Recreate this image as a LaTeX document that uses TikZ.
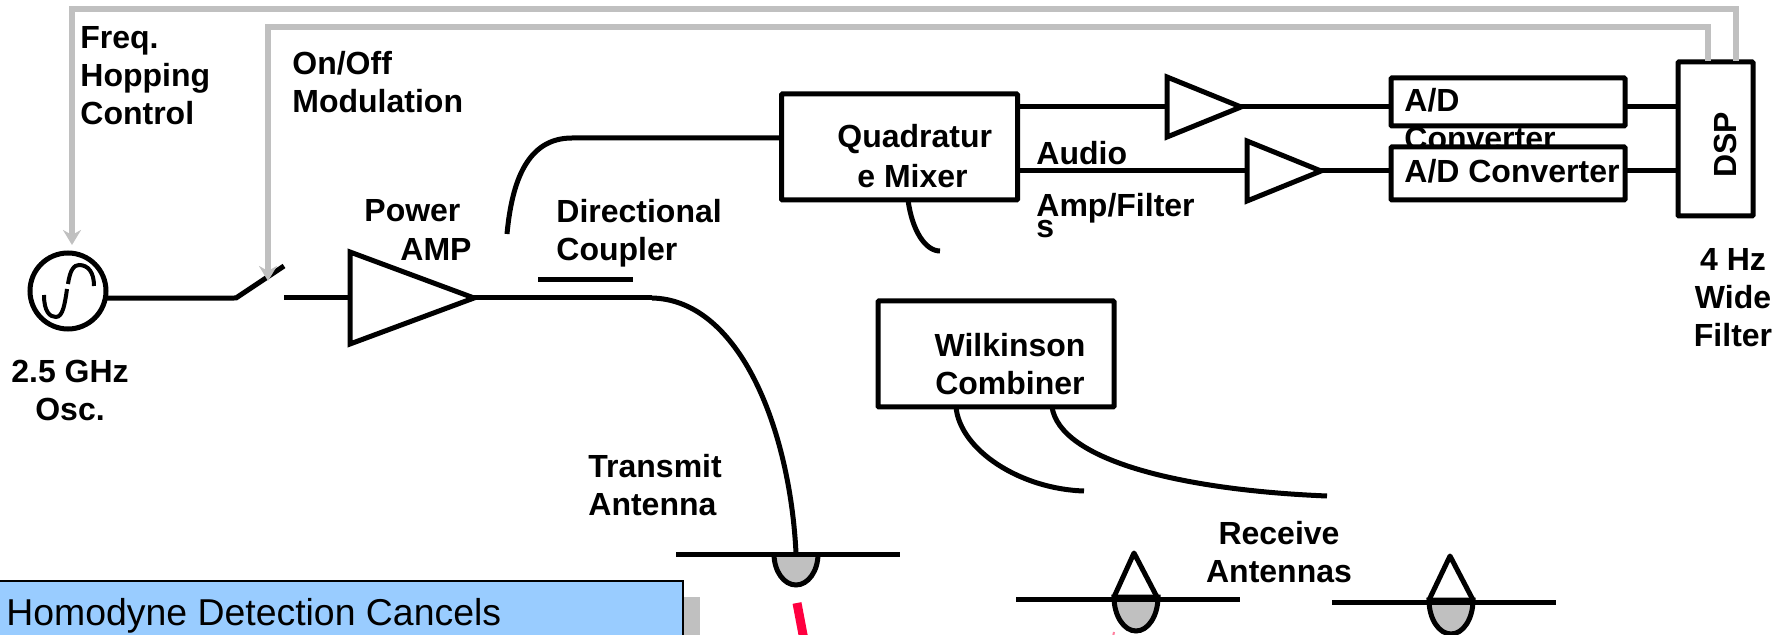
\documentclass[tikz,border=0pt]{standalone}
\usepackage{fontspec}
\setmainfont{Liberation Sans}
\usetikzlibrary{arrows.meta}
\usetikzlibrary{shapes.geometric}

\tikzset{
  wire/.style={line width=2.5pt},
  ctrl/.style={line width=2.75pt,draw=ctrlgray,-{Stealth[length=7.5pt,width=9pt,inset=2.5pt]}},
  blockbox/.style={draw,line width=2.5pt,fill=white,inner sep=0pt,outer sep=0pt,rounded corners=0.5pt},
  ampbox/.style={draw,line width=2.5pt,fill=white,isosceles triangle,isosceles triangle stretches,inner sep=0pt,outer sep=0pt,anchor=lower side},
  lbl/.style={font=\fontsize{16}{19}\selectfont\bfseries,align=left,inner sep=0pt,anchor=base west},
  lblc/.style={font=\fontsize{16}{19}\selectfont\bfseries,align=center,inner sep=0pt,anchor=base},
  dome/.style={line width=2.5pt,fill=domegray}
}
\definecolor{ctrlgray}{HTML}{C0C0C0}
\definecolor{domegray}{HTML}{C0C0C0}
\definecolor{notegray}{HTML}{C0C0C0}
\definecolor{noteblue}{HTML}{99CCFF}
\definecolor{beamred}{HTML}{FF0040}

\begin{document}
\begin{tikzpicture}[x=0.5pt,y=-0.5pt]
\clip (0,0) rectangle (1787,635);

% Blocks
\node[draw,circle,line width=2.5pt,minimum size=38pt,inner sep=0pt,outer sep=0pt] (osc) at (68,291) {};
\node[ampbox,minimum width=46pt,minimum height=62pt] (pa) at (350,298) {};
\node[ampbox,minimum width=30pt,minimum height=37pt] (ampi) at (1167,107) {};
\node[ampbox,minimum width=30pt,minimum height=37pt] (ampq) at (1247,171) {};
\node[blockbox,minimum width=118pt,minimum height=53pt] (mixer) at (899.5,147) {};
\node[blockbox,minimum width=118pt,minimum height=53pt] (wilk) at (996,354) {};

% The lower A/D box hides part of the upper label
\node[blockbox,minimum width=117pt,minimum height=24pt] (adi) at (1508,102) {};
\node[lbl] (adilbl) at (1404,150) {A/D\\Converter};
\node[blockbox,minimum width=117pt,minimum height=26.5pt] (adq) at (1508,173.5) {};
\node[lbl] (adqlbl) at (1404,183) {A/D Converter};
\node[blockbox,minimum width=37.5pt,minimum height=77pt] (dsp) at (1715.5,139) {};

% Switch and free ends
\coordinate (swa) at (236,298);
\coordinate (swb) at (284,266);
\coordinate (swc) at (284,298);
\coordinate (cpl) at (652,298);
\coordinate (cpla) at (538,280);
\coordinate (cplb) at (633,280);
\coordinate (feedstart) at (507,234);
\coordinate (feedbend) at (572,138);
\coordinate (stubend) at (940,251);
\coordinate (tx) at (796,553);
\coordinate (wilka) at (1084,491);
\coordinate (wilkb) at (1327,496);

% Signal path
\draw[wire] (osc.-11) -- (swa) -- (swb);
\draw[wire] (swc) -- (pa.lower side);
\draw[wire] (pa.apex) -- (cpl);
\draw[wire] (cpl) .. controls (740,300) and (790,430) .. (tx);
\draw[wire] (cpla) -- (cplb);
\draw[wire] (feedstart) .. controls (512,180) and (528,138) .. (feedbend) -- (feedbend -| mixer.west);
\draw[wire] (908,200) .. controls (912,230) and (925,251) .. (stubend);
\draw[wire] (mixer.east |- ampi) -- (ampi.lower side);
\draw[wire] (mixer.east |- ampq) -- (ampq.lower side);
\draw[wire] (ampi.apex) -- (adi.west |- ampi);
\draw[wire] (ampq.apex) -- (adq.west |- ampq);
\draw[wire] (adi.east |- ampi) -- (dsp.west |- ampi);
\draw[wire] (adq.east |- ampq) -- (dsp.west |- ampq);
\draw[wire] (956,407) .. controls (960,450) and (1020,489) .. (wilka);
\draw[wire] (1052,407) .. controls (1060,460) and (1180,490) .. (wilkb);

% Sine inside the oscillator
\draw[line width=2pt] (44,295) .. controls (44,312) and (50,317) .. (56,317) .. controls (63,317) and (65,303) .. (67,289);
\draw[line width=2pt] (68,284) .. controls (70,270) and (74,265) .. (79,265) .. controls (88,265) and (94,272) .. (94,286);

% Control lines from the DSP
\coordinate (dsphop) at (1736,61);
\coordinate (dspsw) at (1708,61);
\draw[ctrl] (dsphop) -- (1736,9) -- (72,9) -- (72,245);
\draw[ctrl] (dspsw) -- (1708,27) -- (268,27) -- (268,281);

% Antennas
\draw[dome] (774,554) arc[start angle=180,end angle=0,x radius=22,y radius=31];
\draw[wire] (676,554) -- (900,554);
\draw[wire,line join=round] (1114,597) -- (1134,553) -- (1157,597);
\draw[dome] (1114,597) arc[start angle=180,end angle=0,x radius=22,y radius=34] -- cycle;
\draw[wire] (1016,599) -- (1240,599);
\draw[wire,line join=round] (1429,600) -- (1450,556) -- (1473,600);
\draw[dome] (1429,600) arc[start angle=180,end angle=0,x radius=22,y radius=34] -- cycle;
\draw[wire] (1332,602) -- (1556,602);

% Beams and note
\draw[line width=4.5pt,beamred] (797,603) -- (804,640);
\draw[line width=1pt,beamred!50] (1114,632) -- (1113,637);
\fill[notegray] (683,597) rectangle (700,640);
\node[draw,line width=1.25pt,fill=noteblue,minimum width=342pt,minimum height=50pt,inner sep=0pt,outer sep=0pt] (note) at (341,631) {};
\node[font=\fontsize{18.7}{22}\selectfont,inner sep=0pt,anchor=base west] (notelbl) at (6,625) {Homodyne Detection Cancels};

% Labels
\node[lbl] (hoplbl) at (80,125) {Freq.\\Hopping\\Control};
\node[lbl] (modlbl) at (292,113) {On/Off\\Modulation};
\node[lblc] (osclbl) at (70,421) {2.5 GHz\\Osc.};
\node[lbl] (pwrlbl) at (364,222) {Power};
\node[lbl] (amplbl) at (400,261) {AMP};
\node[lbl] (cpllbl) at (556,261) {Directional\\Coupler};
\node[lbl] (txlbl) at (588,516) {Transmit\\Antenna};
\node[lblc] (rxlbl) at (1279,582) {Receive\\Antennas};
\node[lblc] (wilklbl) at (1010,395) {Wilkinson\\Combiner};
\node[lbl] (mixlbl) at (837,148) {Quadratur};
\node[lbl] (mixlblb) at (857,188) {e Mixer};
\node[lbl] (audlbl) at (1036,165) {Audio};
\node[lbl] (filtlbl) at (1036,217) {Amp/Filter};
\node[lbl] (filtlblb) at (1036,238) {s};
\node[font=\fontsize{16}{19}\selectfont\bfseries,inner sep=0pt,rotate=90] (dsplbl) at (1725,145) {DSP};
\node[lblc] (widelbl) at (1733,347) {4 Hz\\Wide\\Filter};
\end{tikzpicture}
\end{document}
